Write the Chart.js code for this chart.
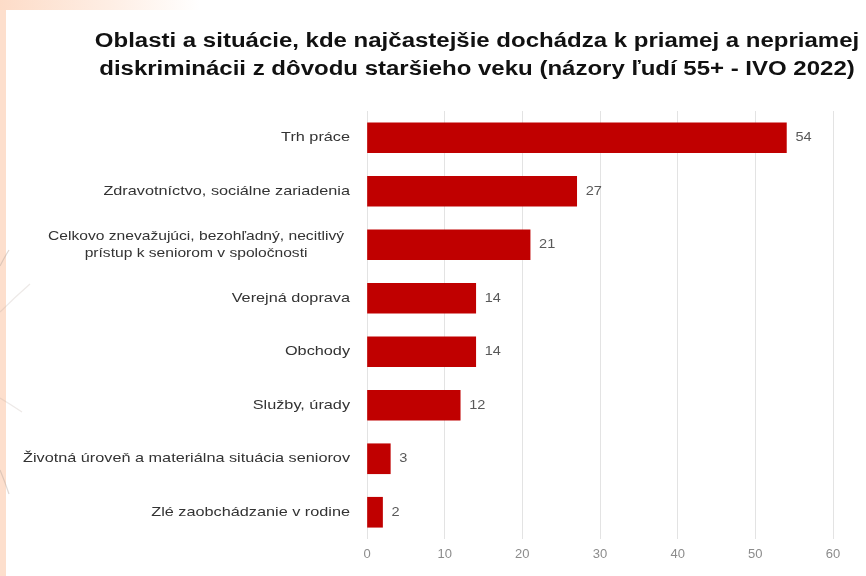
<!DOCTYPE html>
<html>
<head>
<meta charset="utf-8">
<script src="https://cdn.jsdelivr.net/npm/chart.js@4/dist/chart.umd.min.js"></script>
<style>
  html, body { margin: 0; padding: 0; }
  body {
    width: 866px; height: 576px; overflow: hidden; position: relative;
    background: #fddfcd;
  }
  #topband {
    position: absolute; left: 0; top: 0; width: 866px; height: 10px;
    background: linear-gradient(to right, #fddcc8 0px, #feeee4 110px, #ffffff 200px);
  }
  #panel {
    position: absolute; left: 6px; top: 10px; width: 860px; height: 566px;
    background: #ffffff;
  }
  #deco { position: absolute; left: 0; top: 0; pointer-events: none; }
  #chart { position: absolute; left: 6px; top: 10px; }
</style>
</head>
<body>
<div id="topband"></div>
<div id="panel"></div>
<svg id="deco" width="866" height="576">
  <g fill="none" stroke="#b9a9a0" stroke-width="1.2">
    <path d="M0,312 Q14,298 30,284" opacity="0.25"/>
    <path d="M0,266 Q4,258 9,250" opacity="0.45"/>
    <path d="M0,398 Q10,404 22,412" opacity="0.25"/>
    <path d="M0,470 Q5,482 9,494" opacity="0.45"/>
  </g>
</svg>
<canvas id="chart" width="860" height="566"></canvas>
<script>
// Categories and values (share of respondents, %)
const categories = [
  'Trh práce',
  'Zdravotníctvo, sociálne zariadenia',
  ['Celkovo znevažujúci, bezohľadný, necitlivý', 'prístup k seniorom v spoločnosti'],
  'Verejná doprava',
  'Obchody',
  'Služby, úrady',
  'Životná úroveň a materiálna situácia seniorov',
  'Zlé zaobchádzanie v rodine'
];
const values = [54, 27, 21, 14, 14, 12, 3, 2];
const xTicks = [0, 10, 20, 30, 40, 50, 60];
const titleLines = [
  'Oblasti a situácie, kde najčastejšie dochádza k priamej a nepriamej',
  'diskriminácii z dôvodu staršieho veku (názory ľudí 55+ - IVO 2022)'
];

const FONT = 'Arial, "Liberation Sans", sans-serif';
// Horizontal widening applied to the title (bold) and to the category / value labels
const TITLE_STRETCH = 1.2;
const LABEL_STRETCH = 1.25;
const WRAPPED_STRETCH = 1.2;

// Draws text widened horizontally around its anchor point
function wideText(ctx, text, x, y, s) {
  ctx.save();
  ctx.translate(x, y);
  ctx.scale(s, 1);
  ctx.fillText(text, 0, 0);
  ctx.restore();
}

// The title is drawn by Chart.js; widen bold text at draw time
const widenTitle = {
  id: 'widenTitle',
  beforeInit(chart) {
    const ctx = chart.ctx;
    const plain = ctx.fillText;
    ctx.fillText = function (text, x, y, maxWidth) {
      if (/bold/.test(this.font)) {
        this.save();
        this.translate(x, y);
        this.scale(TITLE_STRETCH, 1);
        plain.call(this, text, 0, 0);
        this.restore();
      } else {
        plain.call(this, text, x, y, maxWidth);
      }
    };
  }
};

// Category names left of the bars; a wrapped name is centred line by line
const categoryLabels = {
  id: 'categoryLabels',
  afterDraw(chart) {
    const ctx = chart.ctx;
    const yScale = chart.scales.y;
    const right = chart.chartArea.left - 17;
    const lineH = 17;
    ctx.save();
    ctx.font = '13px ' + FONT;
    ctx.fillStyle = '#333333';
    ctx.textBaseline = 'middle';
    categories.forEach((lab, i) => {
      const y = yScale.getPixelForTick(i);
      if (Array.isArray(lab)) {
        const widths = lab.map(t => ctx.measureText(t).width * WRAPPED_STRETCH);
        const blockW = Math.max(...widths);
        const cx = right - 6 - blockW / 2;
        ctx.textAlign = 'center';
        lab.forEach((t, k) => {
          wideText(ctx, t, cx, y + (k - (lab.length - 1) / 2) * lineH, WRAPPED_STRETCH);
        });
      } else {
        ctx.textAlign = 'right';
        wideText(ctx, lab, right, y, LABEL_STRETCH);
      }
    });
    ctx.restore();
  }
};

// Writes each bar's value just past its end
const valueLabels = {
  id: 'valueLabels',
  afterDatasetsDraw(chart) {
    const ctx = chart.ctx;
    const meta = chart.getDatasetMeta(0);
    ctx.save();
    ctx.font = '13px ' + FONT;
    ctx.fillStyle = '#595959';
    ctx.textAlign = 'left';
    ctx.textBaseline = 'middle';
    meta.data.forEach((bar, i) => {
      wideText(ctx, String(values[i]), bar.x + 9, bar.y, 1.12);
    });
    ctx.restore();
  }
};

new Chart(document.getElementById('chart'), {
  type: 'bar',
  data: {
    labels: categories,
    datasets: [{
      data: values,
      backgroundColor: '#c00000',
      borderWidth: 0,
      barThickness: 30
    }]
  },
  options: {
    indexAxis: 'y',
    responsive: false,
    animation: false,
    layout: { padding: { left: 115, right: 33, top: 0, bottom: 0 } },
    plugins: {
      legend: { display: false },
      tooltip: { enabled: false },
      title: {
        display: true,
        text: titleLines,
        color: '#111111',
        font: { family: FONT, size: 20, weight: 'bold', lineHeight: 1.4 },
        padding: { top: 17, bottom: 28 }
      }
    },
    scales: {
      x: {
        min: 0,
        max: 60,
        afterBuildTicks(scale) { scale.ticks = xTicks.map(v => ({ value: v })); },
        afterFit(scale) { scale.height = 37; },
        grid: { color: '#e3e3e3', drawTicks: false, lineWidth: 1 },
        border: { display: false },
        ticks: {
          color: '#8c8c8c',
          padding: 8,
          font: { family: FONT, size: 13 }
        }
      },
      y: {
        afterFit(scale) { scale.width = 361 - 115; },
        grid: { display: false },
        border: { display: false },
        ticks: { display: false }
      }
    }
  },
  plugins: [widenTitle, categoryLabels, valueLabels]
});
</script>
</body>
</html>
